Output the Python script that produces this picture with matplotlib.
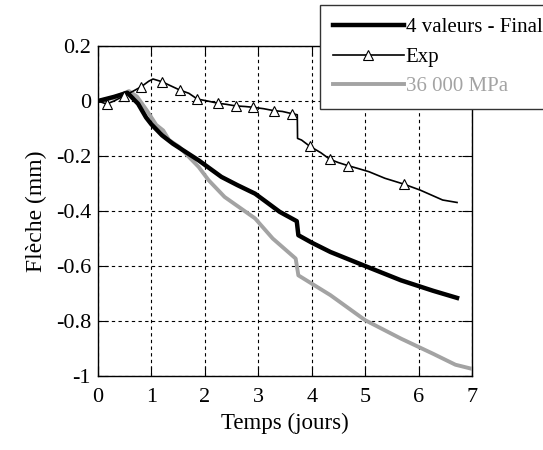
import matplotlib
matplotlib.use('Agg')
import matplotlib.pyplot as plt

# --- DATA ---
final_x = [0, 0.3, 0.55, 0.75, 0.9, 1.0, 1.2, 1.4, 1.885, 2.31, 2.61, 2.94, 3.15, 3.40,
           3.72, 3.75, 4.0, 4.35, 5.0, 5.67, 6.27, 6.72]
final_y = [0, 0.015, 0.03, -0.01, -0.06, -0.085, -0.125, -0.155, -0.216, -0.276, -0.306,
           -0.337, -0.367, -0.403, -0.437, -0.488, -0.515, -0.549, -0.6, -0.652, -0.69, -0.716]

exp_x = [0, 0.16, 0.3, 0.49, 0.65, 0.81, 0.95, 1.03, 1.20, 1.33, 1.53, 1.70, 1.86, 2.05,
         2.24, 2.4, 2.58, 2.75, 2.91, 3.1, 3.29, 3.45, 3.63, 3.73, 3.735, 3.81, 3.96, 4.17,
         4.34, 4.5, 4.68, 4.86, 5.07, 5.37, 5.72, 6.03, 6.45, 6.72]
exp_y = [0, -0.011, 0.0, 0.019, 0.035, 0.052, 0.072, 0.080, 0.070, 0.058, 0.040, 0.028,
         0.007, 0.0, -0.008, -0.012, -0.018, -0.02, -0.023, -0.028, -0.035, -0.038, -0.046,
         -0.05, -0.136, -0.142, -0.164, -0.188, -0.212, -0.224, -0.235, -0.245, -0.257,
         -0.281, -0.302, -0.324, -0.360, -0.369]
exp_marks = [1, 3, 5, 8, 10, 12, 14, 16, 18, 20, 22, 26, 28, 30, 34]

mpa_x = [0, 0.3, 0.58, 0.73, 0.91, 1.09, 1.22, 1.33, 1.52, 1.885, 2.07, 2.37, 2.94, 3.27,
         3.70, 3.75, 4.0, 4.35, 5.0, 5.67, 6.27, 6.69, 7.0]
mpa_y = [0, 0.012, 0.036, 0.016, -0.033, -0.087, -0.107, -0.142, -0.167, -0.24, -0.288,
         -0.349, -0.427, -0.50, -0.573, -0.634, -0.664, -0.706, -0.797, -0.864, -0.919,
         -0.959, -0.974]

GRAY = '#a3a3a3'

plt.rcParams['font.family'] = ['Liberation Serif', 'DejaVu Serif']
plt.rcParams['axes.unicode_minus'] = False

fig = plt.figure(figsize=(5.43, 4.5), dpi=100)
ax = fig.add_axes([98/543, 1-376/450, (472-98)/543, (376-46)/450])

ax.plot(final_x, final_y, color='black', lw=3.2, label='4 valeurs - Final', zorder=4)
ax.plot(exp_x, exp_y, color='black', lw=1.2, marker='^', markevery=exp_marks,
        markersize=7, markerfacecolor='white', markeredgecolor='black',
        markeredgewidth=0.8, label='Exp', zorder=5)
ax.plot(mpa_x, mpa_y, color=GRAY, lw=2.8, label='36 000 MPa', zorder=3)

ax.set_xlim(0, 7)
ax.set_ylim(-1, 0.2)
ax.set_xticks(range(0, 8))
ax.set_yticks([0.2, 0, -0.2, -0.4, -0.6, -0.8, -1])
ax.set_yticklabels(['0.2', '0', '-0.2', '-0.4', '-0.6', '-0.8', '-1'])
ax.grid(True, color='black', linestyle=(0, (3, 3)), linewidth=0.8)
ax.tick_params(direction='in', length=7, width=0.8, top=True, right=True,
               labelsize=16)
ax.tick_params(axis='y', pad=5)
ax.tick_params(axis='x', pad=9)
for s in ax.spines.values():
    s.set_linewidth(1.0)

ax.set_xlabel('Temps (jours)', fontsize=16.5, labelpad=4)
ax.set_ylabel('Flèche (mm)', fontsize=17, labelpad=6)

leg = fig.legend(loc='upper left', bbox_to_anchor=(320/543, 1-5/450), fontsize=15,
                 frameon=True, fancybox=False, framealpha=1, edgecolor='#333333',
                 handlelength=3.4, borderpad=0.62, labelspacing=0.47, handletextpad=0.1,
                 borderaxespad=0)
leg.get_frame().set_linewidth(1.0)
leg.get_texts()[2].set_color(GRAY)
leg.set_zorder(10)

fig.savefig('out.png', dpi=100)
